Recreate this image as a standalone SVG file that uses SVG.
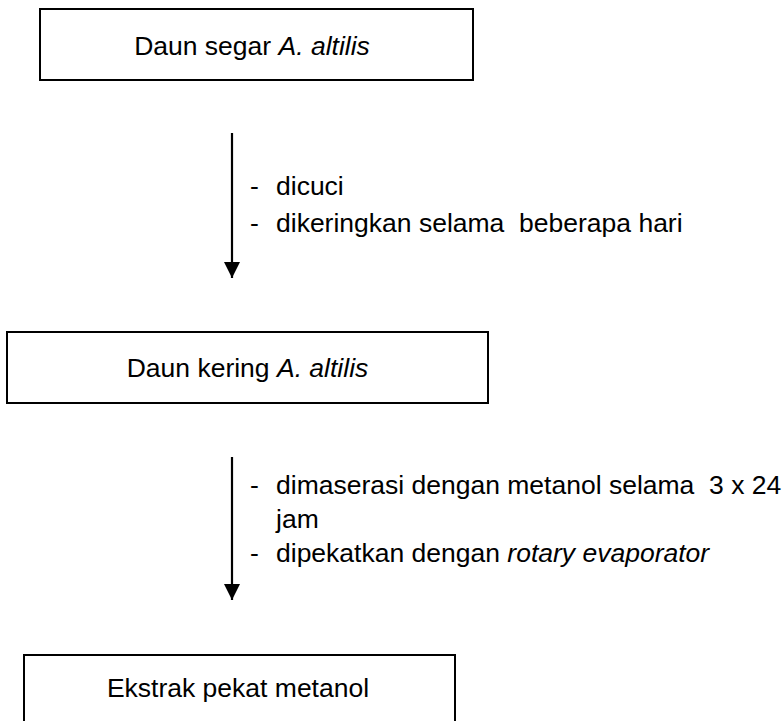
<svg xmlns="http://www.w3.org/2000/svg" width="783" height="721" viewBox="0 0 783 721">
  <style>
    .box { fill: #ffffff; stroke: #000000; stroke-width: 2; }
    .t { font-family: "Liberation Sans", Arial, sans-serif; font-size: 26.5px; fill: #000000; }
    .c { text-anchor: middle; }
    .i { font-style: italic; }
    .conn { stroke: #000000; stroke-width: 2.2; fill: none; }
  </style>
  <defs>
    <marker id="arrow" viewBox="0 0 16 16" refX="16" refY="8" markerWidth="16" markerHeight="16" markerUnits="userSpaceOnUse" orient="auto">
      <path d="M0,0 L16,8 L0,16 Z" fill="#000000"/>
    </marker>
  </defs>
  <rect width="783" height="721" fill="#ffffff"/>

  <g id="node-daun-segar">
    <rect class="box" x="40" y="9" width="433" height="71"/>
    <text class="t c" x="252" y="55">Daun segar <tspan class="i">A. altilis</tspan></text>
  </g>

  <g id="node-daun-kering">
    <rect class="box" x="7" y="332" width="481" height="71"/>
    <text class="t c" x="247.5" y="377">Daun kering <tspan class="i">A. altilis</tspan></text>
  </g>

  <g id="node-ekstrak">
    <rect class="box" x="24" y="655" width="431" height="80"/>
    <text class="t c" x="238" y="697">Ekstrak pekat metanol</text>
  </g>

  <g id="connectors">
    <line class="conn" x1="232" y1="133" x2="232" y2="278" marker-end="url(#arrow)"/>
    <line class="conn" x1="232" y1="457" x2="232" y2="600" marker-end="url(#arrow)"/>
  </g>

  <g id="labels">
    <g id="label-step1">
      <text class="t" x="250" y="195">-</text>
      <text class="t" x="276" y="195">dicuci</text>
      <text class="t" x="250" y="232">-</text>
      <text class="t" x="276" y="232" xml:space="preserve">dikeringkan selama  beberapa hari</text>
    </g>
    <g id="label-step2">
      <text class="t" x="250" y="494">-</text>
      <text class="t" x="276" y="494" xml:space="preserve">dimaserasi dengan metanol selama  3 x 24</text>
      <text class="t" x="276" y="528">jam</text>
      <text class="t" x="250" y="562">-</text>
      <text class="t" x="276" y="562">dipekatkan dengan <tspan class="i">rotary evaporator</tspan></text>
    </g>
  </g>
</svg>
